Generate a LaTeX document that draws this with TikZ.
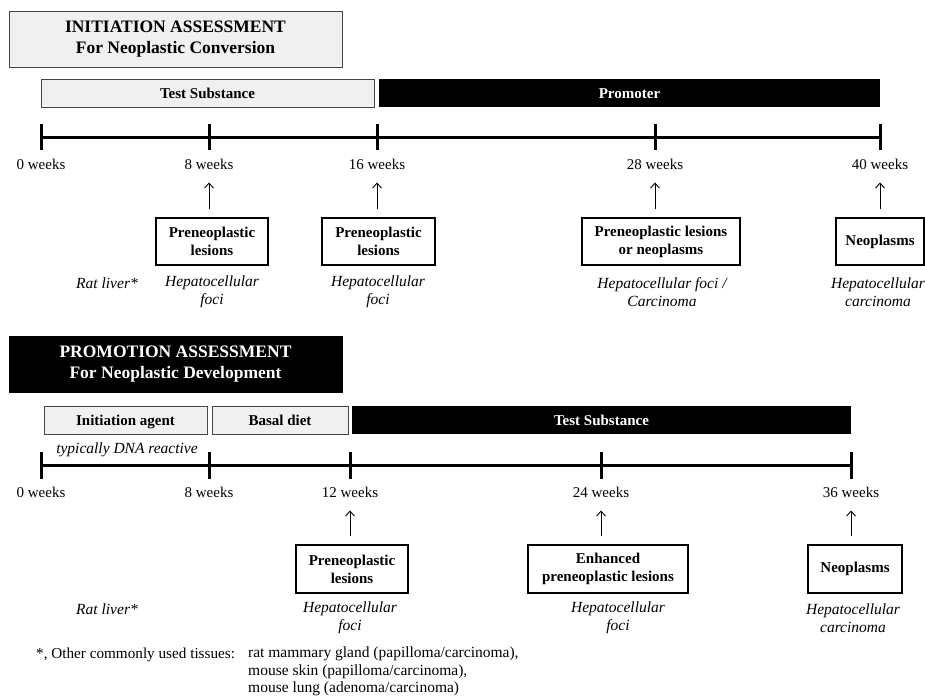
\documentclass[tikz,border=0pt]{standalone}
\usepackage{fontspec}
\setmainfont{Liberation Serif}
\usepackage{tikz}
\usetikzlibrary{calc,shapes,arrows.meta}

\definecolor{lightbar}{RGB}{240,240,240}
\definecolor{edgegray}{RGB}{70,70,70}

\begin{document}
\begin{tikzpicture}[x=1pt,y=-1pt,
    txt/.style={font=\fontsize{15}{18}\selectfont,inner sep=0pt,align=center},
    itl/.style={font=\fontsize{15.5}{18}\selectfont\itshape,inner sep=0pt,align=center},
    heading/.style={draw=edgegray,line width=1pt,minimum width=333,minimum height=56,
      font=\fontsize{17.5}{21}\selectfont\bfseries,align=center,inner sep=0pt},
    lightbar/.style={draw=edgegray,fill=lightbar,line width=0.8pt,minimum height=28,
      text height=10,text depth=0,font=\fontsize{15}{18}\selectfont\bfseries,inner sep=0pt},
    darkbar/.style={fill=black,text=white,minimum height=28,
      text height=10,text depth=0,font=\fontsize{15}{18}\selectfont\bfseries,inner sep=0pt},
    result/.style={draw,line width=1.1pt,minimum height=47,
      font=\fontsize{15}{18}\selectfont\bfseries,align=center,inner sep=0pt},
    axis/.style={line width=3pt},
    tick/.style={line width=3pt},
    up/.style={-{Straight Barb[length=5pt,width=9pt]},line width=0.9pt,shorten <=8pt,shorten >=13pt}]
  \path[use as bounding box] (0,0) rectangle (925,699); % whole page

  % ---- initiation
  \node[heading,fill=lightbar] (inihead) at (175.5,39)
    {INITIATION ASSESSMENT\\For Neoplastic Conversion};
  \node[lightbar,minimum width=333] (testa) at (207.5,93) {Test Substance};
  \node[darkbar,minimum width=501] (prom) at (629.5,93) {Promoter};
  \draw[axis] (41,137) -- (880,137);
  \foreach \x/\n in {41/0,209/8,377/16,655/28,880/40} {
    \draw[tick] (\x,124) -- (\x,150);
    \node[txt] (wa\n) at (\x,164) {\n\ weeks};
  }
  \node[result,minimum width=112] (ra8) at (212,241.5) {Preneoplastic\\lesions};
  \node[result,minimum width=113] (ra16) at (378.5,241.5) {Preneoplastic\\lesions};
  \node[result,minimum width=158] (ra28) at (661,241.5) {Preneoplastic lesions\\or neoplasms};
  \node[result,minimum width=88] (ra40) at (880,241.5) {Neoplasms};
  \foreach \n in {8,16,28,40}
    \draw[up] (ra\n.north -| wa\n) -- (wa\n.south);
  \node[itl] (ratA) at (107,283) {Rat liver*};
  \node[itl] (ha8) at (212,292) {Hepatocellular\\foci};
  \node[itl] (ha16) at (378,292) {Hepatocellular\\foci};
  \node[itl] (ha28) at (662,292) {Hepatocellular foci /\\Carcinoma};
  \node[itl] (ha40) at (878,292) {Hepatocellular\\carcinoma};

  % ---- promotion
  \node[heading,fill=black,draw=black,text=white] (prohead) at (175.5,364)
    {PROMOTION ASSESSMENT\\For Neoplastic Development};
  \node[lightbar,minimum width=163] (init) at (125.5,420) {Initiation agent};
  \node[lightbar,minimum width=136] (basal) at (280,420) {Basal diet};
  \node[darkbar,minimum width=499] (testb) at (601.5,420) {Test Substance};
  \node[itl] (dna) at (127,450) {typically DNA reactive};
  \draw[axis] (41,465) -- (851,465);
  \foreach \x/\n in {41/0,209/8,350/12,601/24,851/36} {
    \draw[tick] (\x,452) -- (\x,479);
    \node[txt] (wb\n) at (\x,492) {\n\ weeks};
  }
  \node[result,minimum width=112,minimum height=48] (rb12) at (352,569) {Preneoplastic\\lesions};
  \node[result,minimum width=160,minimum height=48] (rb24) at (608,569) {Enhanced\\preneoplastic lesions};
  \node[result,minimum width=94,minimum height=48] (rb36) at (855,569) {Neoplasms};
  \foreach \n in {12,24,36}
    \draw[up] (rb\n.north -| wb\n) -- (wb\n.south);
  \node[itl] (ratB) at (107,609) {Rat liver*};
  \node[itl] (hb12) at (350,618) {Hepatocellular\\foci};
  \node[itl] (hb24) at (618,618) {Hepatocellular\\foci};
  \node[itl] (hb36) at (853,618) {Hepatocellular\\carcinoma};

  % ---- footnote
  \node[txt,anchor=west,font=\fontsize{15.2}{17.5}\selectfont] (fnote) at (36,655)
    {*, Other commonly used tissues:};
  \node[txt,anchor=north west,align=left,font=\fontsize{15.5}{17.5}\selectfont] (tissues) at (248,647)
    {rat mammary gland (papilloma/carcinoma),\\mouse skin (papilloma/carcinoma),\\mouse lung (adenoma/carcinoma)};
\end{tikzpicture}
\end{document}
